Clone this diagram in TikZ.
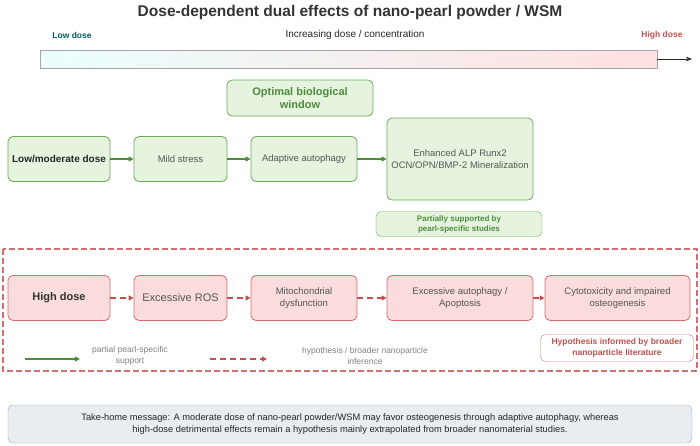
\documentclass[tikz,border=0pt]{standalone}
\usepackage{fontspec}
\setmainfont{Liberation Sans}
\usetikzlibrary{arrows.meta,positioning}
\definecolor{gfill}{HTML}{E5F3DF}
\definecolor{gline}{HTML}{6AAA58}
\definecolor{garrow}{HTML}{4E8C3A}
\definecolor{rfill}{HTML}{F9DCDB}
\definecolor{rline}{HTML}{D27070}
\definecolor{rarrow}{HTML}{C0504D}
\definecolor{txt}{HTML}{555555}
\definecolor{tfill}{HTML}{E8EDF2}
\tikzset{
  gbox/.style={draw=gline,fill=gfill,rounded corners=5pt,thick,align=center,text=txt,font=\fontsize{9.5}{11.5}\selectfont},
  rbox/.style={draw=rline,fill=rfill,rounded corners=5pt,thick,align=center,text=txt,font=\fontsize{9.5}{11.5}\selectfont},
  garr/.style={-{Triangle[length=5pt,width=5pt]},garrow,line width=1.6pt},
  rarr/.style={-{Triangle[length=5pt,width=5pt]},rarrow,line width=1.6pt,dash pattern=on 6pt off 4pt},
}
\begin{document}
\begin{tikzpicture}[x=1pt,y=-1pt]
\useasboundingbox (0,0) rectangle (700,445);

\node[font=\bfseries\fontsize{15.5}{17}\selectfont,text=black!80] (title) at (350,12) {Dose-dependent dual effects of nano-pearl powder / WSM};
\node[font=\bfseries\fontsize{8.5}{10}\selectfont,text=teal!70!black] (low) at (72,35) {Low dose};
\node[font=\fontsize{10}{11}\selectfont,text=black!85] (incr) at (355,35) {Increasing dose / concentration};
\node[font=\bfseries\fontsize{8.5}{10}\selectfont,text=rarrow] (high) at (662,35) {High dose};

\shade[left color=cyan!8,right color=red!12,draw=gray!70] (40,50) rectangle (657,68);
\coordinate (barend) at (657,59);
\coordinate (barhead) at (692,59);
\draw[-{Stealth[length=6pt]},black!85] (barend) -- (barhead);

% low / moderate dose
\node[gbox,minimum width=146pt,minimum height=36pt,font=\bfseries\fontsize{11}{13}\selectfont,text=garrow] (window) at (300,98) {Optimal biological\\window};
\node[gbox,minimum width=102pt,minimum height=45pt,inner sep=1pt,font=\bfseries\fontsize{10}{12}\selectfont,text=black!85] (lmd) at (59,159) {Low/moderate dose};
\node[gbox,minimum width=93pt,minimum height=45pt] (mild) at (180.5,159) {Mild stress};
\node[gbox,minimum width=106pt,minimum height=45pt] (adapt) at (304,159) {Adaptive autophagy};
\node[gbox,minimum width=146pt,minimum height=82pt] (enh) at (460,159) {Enhanced ALP Runx2\\OCN/OPN/BMP-2 Mineralization};
\node[gbox,thin,minimum width=166pt,minimum height=25pt,font=\bfseries\fontsize{8}{10}\selectfont,text=garrow] (part) at (459,224) {Partially supported by\\pearl-specific studies};
\draw[garr] (lmd) -- (mild);
\draw[garr] (mild) -- (adapt);
\draw[garr] (adapt) -- (enh);

% high dose
\draw[draw=rline,line width=1.3pt,dash pattern=on 6pt off 3pt] (3,249) rectangle (697,371);
\node[rbox,minimum width=102pt,minimum height=45pt,font=\bfseries\fontsize{11}{13}\selectfont,text=black!80] (hd) at (59,298) {High dose};
\node[rbox,minimum width=93pt,minimum height=45pt,font=\fontsize{11}{13}\selectfont] (ros) at (180.5,298) {Excessive ROS};
\node[rbox,minimum width=106pt,minimum height=45pt] (mito) at (304,298) {Mitochondrial\\dysfunction};
\node[rbox,minimum width=146pt,minimum height=45pt] (apo) at (460,298) {Excessive autophagy /\\Apoptosis};
\node[rbox,minimum width=145pt,minimum height=45pt] (cyto) at (617.5,298) {Cytotoxicity and impaired\\osteogenesis};
\node[rbox,thin,fill=white,minimum width=153pt,minimum height=27pt,font=\bfseries\fontsize{8.5}{10.5}\selectfont,text=rarrow] (hyp) at (617,348) {Hypothesis informed by broader\\nanoparticle literature};
\draw[rarr] (hd) -- (ros);
\draw[rarr] (ros) -- (mito);
\draw[rarr] (mito) -- (apo);
\draw[rarr] (apo) -- (cyto);

% legend
\coordinate (gl1) at (25,359);
\coordinate (gl2) at (80,359);
\draw[garr,line width=1.2pt] (gl1) -- (gl2);
\node[text=gray,font=\fontsize{8.5}{10.5}\selectfont,align=center] (gtxt) at (130,356) {partial pearl-specific\\support};
\coordinate (rl1) at (210,359);
\coordinate (rl2) at (267,359);
\draw[rarr,line width=1.2pt] (rl1) -- (rl2);
\node[text=gray,font=\fontsize{8.5}{10.5}\selectfont,align=center] (rtxt) at (365,356) {hypothesis / broader nanoparticle\\inference};

% take-home
\node[draw=gray!70,fill=tfill,rounded corners=5pt,minimum width=684pt,minimum height=38pt,align=center,text=black!85,font=\fontsize{9.3}{12}\selectfont] (msg) at (350,424) {Take-home message: A moderate dose of nano-pearl powder/WSM may favor osteogenesis through adaptive autophagy, whereas\\high-dose detrimental effects remain a hypothesis mainly extrapolated from broader nanomaterial studies.};
\end{tikzpicture}
\end{document}
